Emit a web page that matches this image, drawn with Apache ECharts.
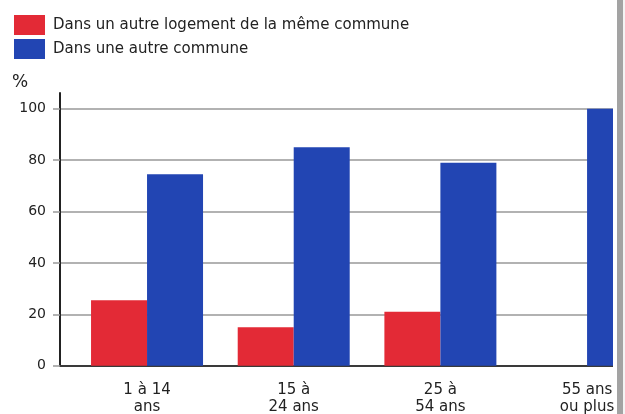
<!DOCTYPE html>
<html>
<head>
<meta charset="utf-8">
<script src="https://cdn.jsdelivr.net/npm/echarts@6/dist/echarts.min.js"></script>
<style>
  html, body { margin: 0; padding: 0; background: #fff; }
  #chart { width: 625px; height: 414px; }
</style>
</head>
<body>
<div id="chart"></div>
<script>
// categories and values
const categories = ["1 à 14\nans", "15 à\n24 ans", "25 à\n54 ans", "55 ans\nou plus"];
const memeCommune = [25.5, 15, 21, 0];
const autreCommune = [74.5, 85, 79, 100];
const seriesNames = ["Dans un autre logement de la même commune", "Dans une autre commune"];
const yTicks = { min: 0, max: 100, interval: 20 };

const font = "DejaVu Sans";
const red = "#e32a36";
const blue = "#2245b3";

const chart = echarts.init(document.getElementById("chart"));

// plot box in px
const top0 = 108.7;
const bottom0 = 48.3;

const option = {
    animation: false,
    textStyle: { fontFamily: font },
    title: {
        text: "%",
        left: 7,
        top: 69,
        textStyle: { fontFamily: font, fontSize: 17, fontWeight: "normal", color: "#222" },
    },
    legend: {
        orient: "vertical",
        left: 14,
        top: 15,
        padding: 0,
        itemWidth: 31,
        itemHeight: 20,
        itemGap: 4,
        icon: "rect",
        data: seriesNames,
        textStyle: { fontFamily: font, fontSize: 15, color: "#222", padding: [0, 0, 0, 3] },
    },
    grid: [
        // 0: bars (runs past the right edge, the picture is cropped)
        { left: 73.7, top: top0, bottom: bottom0, width: 586.7, outerBoundsMode: "none" },
        // 1: frame with gridlines and y labels
        { left: 60, top: top0, bottom: bottom0, right: -40, outerBoundsMode: "none" },
        // 2: y axis line going a bit above 100
        { left: 60, top: 93, bottom: bottom0, right: -40, outerBoundsMode: "none" },
    ],
    xAxis: [
        {
            gridIndex: 0,
            type: "category",
            data: categories,
            axisLine: { show: false },
            axisTick: { show: false },
            axisLabel: {
                fontFamily: font,
                fontSize: 15,
                lineHeight: 17,
                color: "#222",
                margin: 16,
                interval: 0,
            },
        },
        {
            gridIndex: 1,
            type: "value",
            min: 0,
            max: 1,
            axisLine: { show: true, lineStyle: { color: "#3a3a3a", width: 2 } },
            axisTick: { show: false },
            axisLabel: { show: false },
            splitLine: { show: false },
        },
        { gridIndex: 2, type: "value", min: 0, max: 1, show: false },
    ],
    yAxis: [
        { gridIndex: 0, type: "value", min: yTicks.min, max: yTicks.max, show: false },
        {
            gridIndex: 1,
            type: "value",
            min: yTicks.min,
            max: yTicks.max,
            interval: yTicks.interval,
            axisLine: { show: false },
            axisTick: { show: true, length: 7, lineStyle: { color: "#999", width: 1.5 } },
            axisLabel: { fontFamily: font, fontSize: 14, color: "#222", margin: 14 },
            splitLine: { show: true, lineStyle: { color: "#999", width: 1.5 } },
        },
        {
            gridIndex: 2,
            type: "value",
            min: 0,
            max: 1,
            axisLine: { show: true, lineStyle: { color: "#222", width: 2 } },
            axisTick: { show: false },
            axisLabel: { show: false },
            splitLine: { show: false },
        },
    ],
    graphic: [
        // white margin + page edge of the scan on the right
        {
            type: "rect",
            right: 8,
            top: 0,
            shape: { width: 4, height: 380 },
            style: { fill: "#fff" },
            z: 100,
        },
        {
            type: "rect",
            right: 2,
            top: 0,
            shape: { width: 6, height: 414 },
            style: { fill: "#a3a3a3" },
            z: 100,
        },
        {
            type: "rect",
            right: 0,
            top: 0,
            shape: { width: 2, height: 414 },
            style: { fill: "#f4f4f4" },
            z: 100,
        },
    ],
    series: [
        {
            name: seriesNames[0],
            type: "bar",
            xAxisIndex: 0,
            yAxisIndex: 0,
            data: memeCommune,
            barWidth: 56,
            barGap: "0%",
            itemStyle: { color: red },
            z: 3,
        },
        {
            name: seriesNames[1],
            type: "bar",
            xAxisIndex: 0,
            yAxisIndex: 0,
            data: autreCommune,
            barWidth: 56,
            barGap: "0%",
            itemStyle: { color: blue },
            z: 3,
        },
    ],
};

chart.setOption(option);
</script>
</body>
</html>
